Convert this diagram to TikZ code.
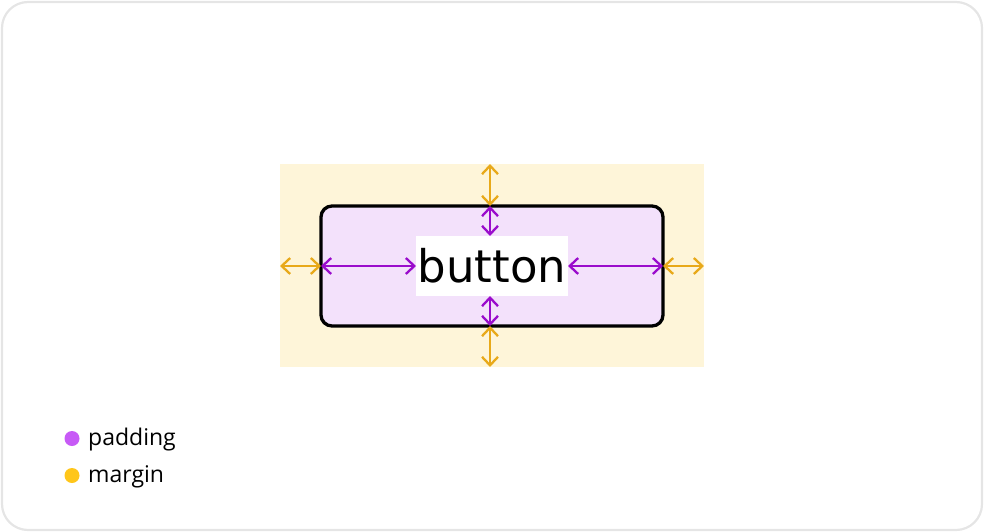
\documentclass[tikz,border=0pt]{standalone}
\usepackage{fontspec}
\setmainfont{DejaVu Sans}
\newfontfamily\legendfont{Open Sans}
\usetikzlibrary{arrows.meta}
\definecolor{framegray}{HTML}{E5E5E5}
\definecolor{marginfill}{HTML}{FEF5D9}
\definecolor{buttonfill}{HTML}{F3E1FB}
\definecolor{padcol}{HTML}{9A0CCC}
\definecolor{margcol}{HTML}{E8A91A}
\definecolor{paddot}{HTML}{C75AF6}
\definecolor{margdot}{HTML}{FFC61A}
\tikzset{
  x=1pt, y=-1pt,
  dim/.style={line width=2.3pt, {Straight Barb[length=8.5pt,width=16pt]}-{Straight Barb[length=8.5pt,width=16pt]}},
  paddim/.style={dim, draw=padcol},
  margdim/.style={dim, draw=margcol},
  legtext/.style={anchor=west, inner sep=0pt, font=\legendfont\fontsize{23}{27}\selectfont}
}
\begin{document}
\begin{tikzpicture}
\useasboundingbox (0,0) rectangle (984,532);
\draw[framegray, line width=2.2pt, rounded corners=26pt] (2,2) rectangle (982,530);
% margin area
\fill[marginfill] (280,164) rectangle (704,367);
\coordinate (mL) at (280,266);
\coordinate (mR) at (704,266);
\coordinate (mT) at (490,164);
\coordinate (mB) at (490,367);
% button
\draw[line width=3.3pt, fill=buttonfill, rounded corners=11pt] (321,206) rectangle (663,326);
\coordinate (bL) at (321,266);
\coordinate (bR) at (663,266);
\coordinate (bT) at (490,206);
\coordinate (bB) at (490,326);
% label
\node[fill=white, minimum width=152pt, minimum height=60pt, inner sep=0pt,
      font=\fontsize{45}{50}\selectfont] (lab) at (492,266) {button};
\coordinate (tL) at (416,266);
\coordinate (tR) at (568,266);
\coordinate (tT) at (490,236);
\coordinate (tB) at (490,296);
% padding arrows
\draw[paddim] (bL) -- (tL);
\draw[paddim] (tR) -- (bR);
\draw[paddim] (bT) -- (tT);
\draw[paddim] (tB) -- (bB);
% margin arrows
\draw[margdim] (mL) -- (bL);
\draw[margdim] (bR) -- (mR);
\draw[margdim] (mT) -- (bT);
\draw[margdim] (bB) -- (mB);
% legend
\fill[paddot] (72,438.5) circle (7.5pt);
\node[legtext] (lp) at (88,440) {padding};
\fill[margdot] (72,475.5) circle (7.5pt);
\node[legtext] (lm) at (88,477) {margin};
\end{tikzpicture}
\end{document}
